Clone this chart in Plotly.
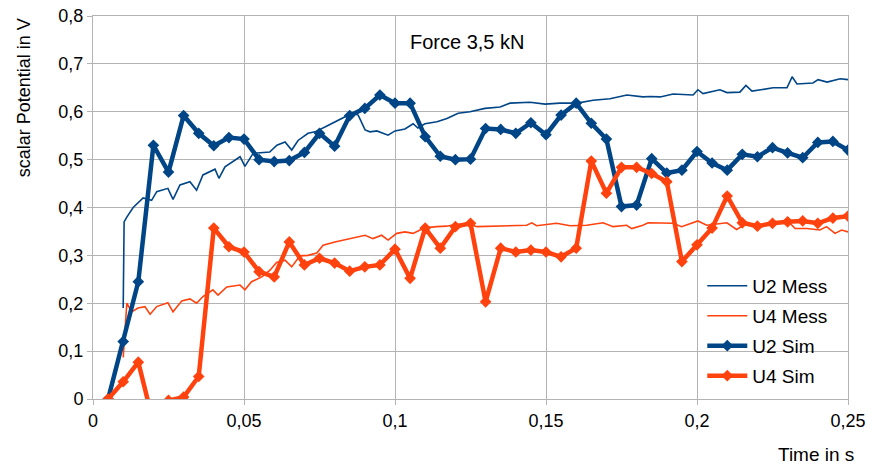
import plotly.graph_objects as go

# ---- data ----
sim_time = [round(0.005 * i, 3) for i in range(1, 51)]

u2_sim = [0.0, 0.12, 0.245, 0.53, 0.474, 0.592, 0.555, 0.529, 0.546, 0.543,
          0.5, 0.496, 0.498, 0.515, 0.555, 0.528, 0.592, 0.607, 0.635, 0.618,
          0.618, 0.548, 0.507, 0.5, 0.501, 0.565, 0.563, 0.555, 0.577, 0.552,
          0.593, 0.618, 0.576, 0.543, 0.402, 0.405, 0.502, 0.472, 0.478, 0.517,
          0.493, 0.478, 0.511, 0.506, 0.525, 0.514, 0.504, 0.536, 0.538, 0.52]

u4_sim = [0.0, 0.036, 0.077, -0.05, -0.003, 0.004, 0.047, 0.357, 0.318, 0.307,
          0.266, 0.255, 0.328, 0.28, 0.294, 0.284, 0.267, 0.276, 0.28, 0.313,
          0.252, 0.357, 0.315, 0.36, 0.367, 0.203, 0.315, 0.307, 0.311, 0.307,
          0.297, 0.315, 0.497, 0.43, 0.484, 0.484, 0.471, 0.454, 0.287, 0.322,
          0.357, 0.424, 0.368, 0.361, 0.367, 0.37, 0.372, 0.367, 0.378, 0.382]

u2_mess_time = [0.0100, 0.0103, 0.0112, 0.0133, 0.0166, 0.0194, 0.0211, 0.0248,
                0.0265, 0.0288, 0.0321, 0.0343, 0.0364, 0.0404, 0.0417, 0.0437,
                0.0487, 0.0503, 0.0530, 0.0563, 0.0585, 0.0609, 0.0636, 0.0658,
                0.0679, 0.0712, 0.0735, 0.0768, 0.0801, 0.0834, 0.0858, 0.0878,
                0.0901, 0.0917, 0.0940, 0.0977, 0.1000, 0.1033, 0.1060, 0.1076,
                0.1099, 0.1139, 0.1172, 0.1209, 0.1248, 0.1298, 0.1348, 0.1381,
                0.1447, 0.1497, 0.1546, 0.1603, 0.1656, 0.1712, 0.1768, 0.1821,
                0.1844, 0.1878, 0.1921, 0.1987, 0.2003, 0.2020, 0.2076, 0.2099,
                0.2142, 0.2162, 0.2182, 0.2252, 0.2298, 0.2315, 0.2331, 0.2384,
                0.2401, 0.2431, 0.2474, 0.2500]
u2_mess = [0.19, 0.37, 0.38, 0.40, 0.42, 0.415, 0.433, 0.44,
           0.417, 0.447, 0.454, 0.436, 0.468, 0.48, 0.461, 0.485,
           0.506, 0.486, 0.513, 0.514, 0.516, 0.53, 0.537, 0.52,
           0.54, 0.555, 0.558, 0.568, 0.579, 0.589, 0.597, 0.593,
           0.562, 0.558, 0.56, 0.551, 0.56, 0.564, 0.575, 0.566,
           0.575, 0.579, 0.586, 0.597, 0.6, 0.607, 0.61, 0.618,
           0.62, 0.616, 0.618, 0.618, 0.624, 0.627, 0.635, 0.631,
           0.632, 0.631, 0.637, 0.635, 0.646, 0.638, 0.646, 0.64,
           0.641, 0.655, 0.643, 0.65, 0.65, 0.673, 0.658, 0.66,
           0.667, 0.662, 0.669, 0.667]

u4_mess_time = [0.0100, 0.0112, 0.0128, 0.0149, 0.0172, 0.0189, 0.0211, 0.0248,
                0.0265, 0.0294, 0.0321, 0.0343, 0.0364, 0.0397, 0.0414, 0.0443,
                0.0487, 0.0503, 0.0525, 0.0559, 0.0586, 0.0608, 0.0636, 0.0658,
                0.0685, 0.0712, 0.0741, 0.0762, 0.0801, 0.0840, 0.0877, 0.0901,
                0.0927, 0.0956, 0.0977, 0.1006, 0.1033, 0.1060, 0.1083, 0.1105,
                0.1138, 0.1171, 0.1204, 0.1248, 0.1271, 0.1325, 0.1381, 0.1436,
                0.1453, 0.1469, 0.1535, 0.1580, 0.1635, 0.1689, 0.1722, 0.1767,
                0.1784, 0.1821, 0.1838, 0.1877, 0.1921, 0.1949, 0.2003, 0.2032,
                0.2099, 0.2131, 0.2165, 0.2198, 0.2252, 0.2308, 0.2325, 0.2363,
                0.2407, 0.2429, 0.2457, 0.2479, 0.2500]
u4_mess = [0.087, 0.2, 0.182, 0.19, 0.193, 0.177, 0.193, 0.201,
           0.182, 0.205, 0.209, 0.2, 0.214, 0.228, 0.217, 0.234,
           0.238, 0.228, 0.245, 0.255, 0.269, 0.285, 0.29, 0.276,
           0.299, 0.3, 0.305, 0.321, 0.328, 0.333, 0.339, 0.342,
           0.335, 0.342, 0.332, 0.346, 0.349, 0.346, 0.353, 0.358,
           0.36, 0.361, 0.365, 0.365, 0.36, 0.361, 0.363, 0.363,
           0.368, 0.362, 0.367, 0.362, 0.363, 0.368, 0.36, 0.363,
           0.356, 0.363, 0.368, 0.367, 0.367, 0.36, 0.372, 0.363,
           0.368, 0.354, 0.367, 0.363, 0.368, 0.367, 0.356, 0.356,
           0.353, 0.36, 0.346, 0.353, 0.349]

BLUE = "#004586"
ORANGE = "#ff420e"
GRID = "#b3b3b3"
FONT = "Liberation Sans"

fig = go.Figure()
fig.add_trace(go.Scatter(x=u2_mess_time, y=u2_mess, name="U2 Mess", mode="lines",
                         legendgroup="g1",
                         line=dict(color=BLUE, width=1.6)))
fig.add_trace(go.Scatter(x=u4_mess_time, y=u4_mess, name="U4 Mess", mode="lines",
                         legendgroup="g2",
                         line=dict(color=ORANGE, width=1.6)))
fig.add_trace(go.Scatter(x=sim_time, y=u2_sim, name="U2 Sim", mode="lines+markers",
                         legendgroup="g3",
                         line=dict(color=BLUE, width=4.5),
                         marker=dict(symbol="diamond", size=9, color=BLUE)))
fig.add_trace(go.Scatter(x=sim_time, y=u4_sim, name="U4 Sim", mode="lines+markers",
                         legendgroup="g4",
                         line=dict(color=ORANGE, width=4.5),
                         marker=dict(symbol="diamond", size=9, color=ORANGE)))

fig.update_layout(
    width=871, height=466,
    margin=dict(l=93, r=23, t=16, b=67, autoexpand=False),
    paper_bgcolor="white", plot_bgcolor="white",
    separators=", ",
    font=dict(family=FONT, size=18, color="#000000"),
    showlegend=True,
    legend=dict(x=0.807, y=0.345, xanchor="left", yanchor="top",
                bgcolor="rgba(0,0,0,0)", font=dict(size=19, family=FONT),
                tracegroupgap=2.3, traceorder="grouped", itemwidth=40),
    xaxis=dict(range=[0, 0.25], dtick=0.05, tick0=0, showgrid=True, gridcolor=GRID,
               gridwidth=1, zeroline=False, showline=True, linecolor=GRID, mirror=True,
               ticks="outside", ticklen=5, tickcolor=GRID, automargin=False,
               tickfont=dict(size=18, family=FONT)),
    yaxis=dict(range=[0, 0.8], dtick=0.1, tick0=0, showgrid=True, gridcolor=GRID,
               gridwidth=1, zeroline=False, showline=True, linecolor=GRID, mirror=True,
               ticks="outside", ticklen=5, tickcolor=GRID, automargin=False,
               tickfont=dict(size=18, family=FONT)),
    annotations=[
        dict(text="Force 3,5 kN", x=0.496, y=0.932, xref="paper", yref="paper",
             xanchor="center", yanchor="middle",
             showarrow=False, font=dict(size=20, family=FONT)),
        dict(text="scalar Potential in V", textangle=-90, x=-0.091, y=0.786,
             xref="paper", yref="paper", xanchor="center", yanchor="middle",
             showarrow=False, font=dict(size=18, family=FONT)),
        dict(text="Time in s", x=0.9576, y=-0.146, xref="paper", yref="paper",
             xanchor="center", yanchor="middle",
             showarrow=False, font=dict(size=19, family=FONT)),
    ],
)

fig.write_html("out.html", config={"displayModeBar": False},
               post_script="document.body.style.margin='0';document.body.style.overflow='hidden';")
